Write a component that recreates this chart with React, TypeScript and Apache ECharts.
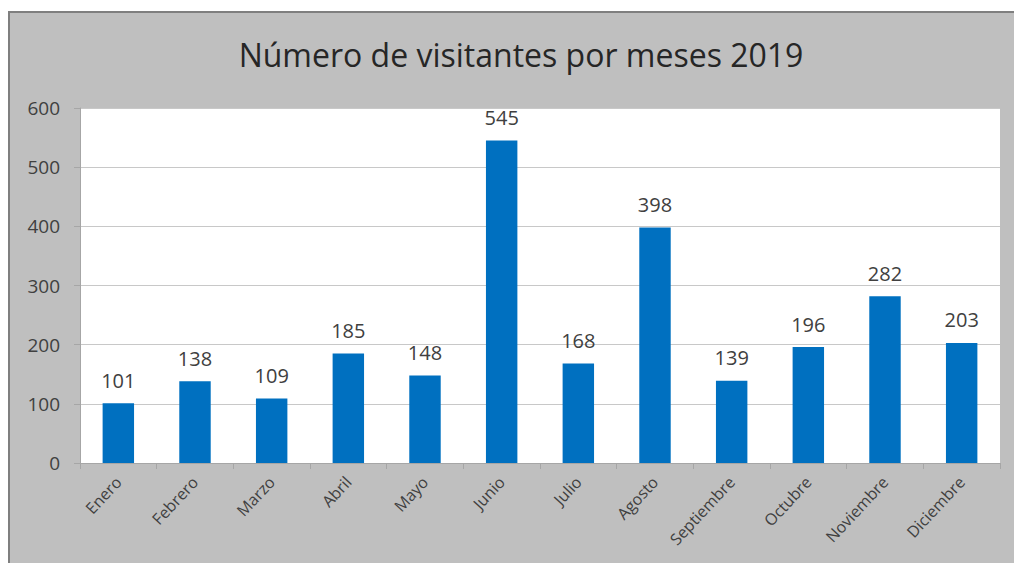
import React, { useEffect, useRef } from "react";
import * as echarts from "echarts";

const months = ["Enero", "Febrero", "Marzo", "Abril", "Mayo", "Junio", "Julio", "Agosto", "Septiembre", "Octubre", "Noviembre", "Diciembre"];
const visitors = [101, 138, 109, 185, 148, 545, 168, 398, 139, 196, 282, 203];
const titleText = "Número de visitantes por meses 2019";

const FONT = "'Open Sans', 'DejaVu Sans', sans-serif";

export default function App() {
  const ref = useRef<HTMLDivElement>(null);
  useEffect(() => {
    if (!ref.current) return;
    const chart = echarts.init(ref.current, null, { renderer: "svg" });
    chart.setOption({
      animation: false,
      backgroundColor: "#ffffff",
      title: {
        text: titleText,
        left: 516,
        top: 33,
        textAlign: "center",
        textStyle: { fontFamily: FONT, fontSize: 32, fontWeight: "normal", color: "#262626" },
      },
      graphic: [
        {
          type: "rect",
          z: -10,
          silent: true,
          shape: { x: 9, y: 12, width: 1010, height: 560 },
          style: { fill: "#bfbfbf", stroke: "#7f7f7f", lineWidth: 2 },
        },
      ],
      grid: {
        left: 80,
        right: 14,
        top: 108,
        bottom: 100,
        show: true,
        backgroundColor: "#ffffff",
        borderWidth: 0,
      },
      xAxis: {
        type: "category",
        data: months,
        axisLine: { show: true, lineStyle: { color: "#a6a6a6", width: 1 } },
        axisTick: { show: true, alignWithLabel: false, length: 6, lineStyle: { color: "#a6a6a6" } },
        axisLabel: {
          rotate: 47,
          interval: 0,
          margin: 16,
          fontFamily: FONT,
          fontSize: 16,
          color: "#404040",
        },
      },
      yAxis: {
        type: "value",
        min: 0,
        max: 600,
        interval: 100,
        axisLine: { show: true, lineStyle: { color: "#a6a6a6", width: 1 } },
        axisTick: { show: true, length: 6, lineStyle: { color: "#a6a6a6" } },
        axisLabel: { fontFamily: FONT, fontSize: 19, color: "#404040", margin: 20 },
        splitLine: { show: true, lineStyle: { color: "#c8c8c8", width: 1 } },
      },
      series: [
        {
          type: "bar",
          data: visitors,
          barWidth: "41%",
          itemStyle: { color: "#0070c0" },
          label: {
            show: true,
            position: "top",
            distance: 13,
            fontFamily: FONT,
            fontSize: 20,
            color: "#404040",
          },
        },
      ],
    });
    return () => chart.dispose();
  }, []);
  return (
    <div
      ref={ref}
      style={{ position: "fixed", left: 0, top: 0, width: 1014, height: 563 }}
    />
  );
}
